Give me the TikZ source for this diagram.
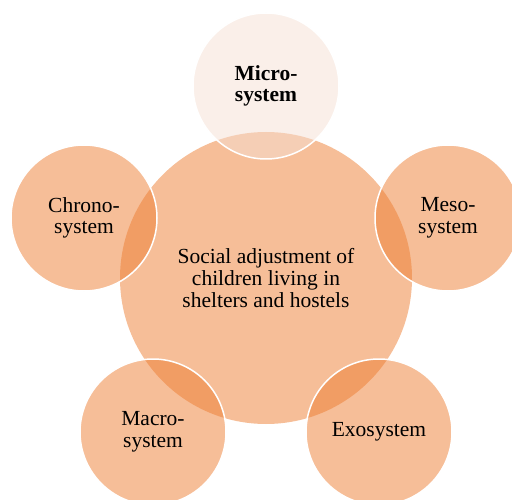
\documentclass[tikz,border=0pt]{standalone}
\usepackage{fontspec}
\setmainfont{Liberation Serif}
\definecolor{accent}{RGB}{237,125,49}
\definecolor{pale}{RGB}{245,223,211}

\begin{document}
\begin{tikzpicture}[x=1pt,y=-1pt,
           every node/.style={circle,inner sep=0pt,align=center,text opacity=1,
             font=\fontsize{21.5}{21.7}\selectfont},
           ring/.style={fill=accent,fill opacity=0.5,draw=white,draw opacity=1,
             line width=1.5pt,minimum size=146pt}]
           \useasboundingbox(0,0)rectangle(512,500);
           \node[fill=accent,fill opacity=0.5,minimum size=292pt](hub)at(266,278)
             {Social adjustment of\\children living in\\shelters and hostels};
           \node[ring,fill=pale,font=\fontsize{21.5}{21.7}\selectfont\bfseries](micro)
             at(266,86){Micro-\\system};
           \node[ring](meso)at(448,218){Meso-\\system};
           \node[ring](exo)at(379,432){Exosystem};
           \node[ring](macro)at(153,432){Macro-\\system};
           \node[ring](chrono)at(84,218){Chrono-\\system};
         \end{tikzpicture}
\end{document}
